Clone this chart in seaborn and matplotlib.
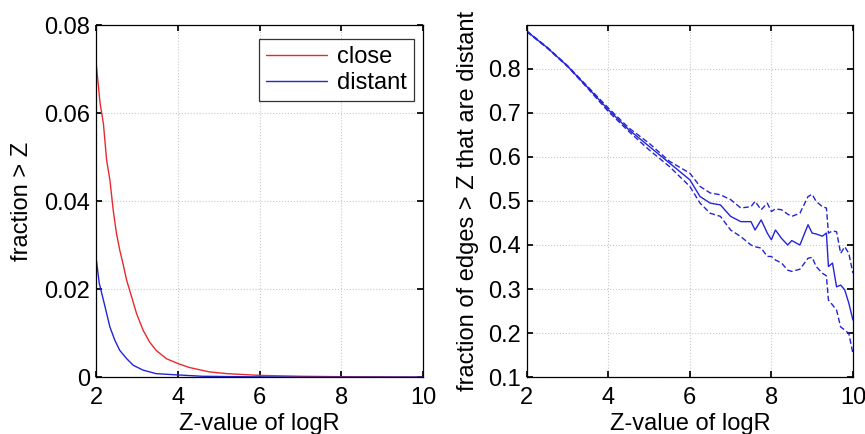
import numpy as np
import pandas as pd
import matplotlib
matplotlib.use("Agg")
import matplotlib.pyplot as plt
import seaborn as sns

# Left panel data
z_close = [2.0, 2.1, 2.18, 2.26, 2.34, 2.42, 2.5, 2.58, 2.66, 2.75, 2.87, 2.99, 3.15, 3.31,
           3.47, 3.72, 4.0, 4.28, 4.77, 5.2, 6.0, 7.0, 8.0, 9.0, 10.0]
close = [0.0717, 0.0622, 0.0577, 0.0493, 0.0448, 0.0380, 0.0327, 0.0289, 0.0258, 0.0220,
         0.0183, 0.0145, 0.0107, 0.0080, 0.0061, 0.0042, 0.0031, 0.0022, 0.0012, 0.0008,
         0.0004, 0.0002, 0.0001, 0.00005, 0.0]
z_distant = [2.0, 2.08, 2.16, 2.26, 2.34, 2.46, 2.58, 2.75, 2.91, 3.15, 3.47, 4.0, 4.6, 5.5,
             7.0, 10.0]
distant = [0.0273, 0.0213, 0.0183, 0.0145, 0.0114, 0.0084, 0.0061, 0.0042, 0.0027, 0.0016,
           0.0008, 0.0005, 0.0002, 0.0001, 0.0, 0.0]

# Right panel data
z_right = [2, 2.5, 3, 3.5, 4, 4.5, 5, 5.5, 6, 6.25, 6.5, 6.75, 7, 7.25, 7.5, 7.6, 7.75, 7.9,
           8, 8.1, 8.25, 8.4, 8.5, 8.7, 8.9, 9.0, 9.1, 9.25, 9.35, 9.4, 9.5, 9.6, 9.7, 9.8, 9.9, 10]
frac_mean = [0.885, 0.848, 0.806, 0.757, 0.707, 0.662, 0.624, 0.586, 0.548, 0.510, 0.495, 0.491,
             0.465, 0.453, 0.453, 0.434, 0.457, 0.427, 0.412, 0.434, 0.415, 0.400, 0.410, 0.400,
             0.446, 0.427, 0.425, 0.420, 0.427, 0.351, 0.359, 0.305, 0.309, 0.298, 0.268, 0.230]
frac_upper = [0.886, 0.849, 0.807, 0.759, 0.711, 0.666, 0.631, 0.590, 0.563, 0.533, 0.518, 0.514,
              0.503, 0.484, 0.487, 0.499, 0.480, 0.495, 0.476, 0.482, 0.480, 0.470, 0.465, 0.472,
              0.510, 0.515, 0.499, 0.487, 0.484, 0.427, 0.432, 0.430, 0.381, 0.396, 0.381, 0.336]
frac_lower = [0.884, 0.847, 0.805, 0.755, 0.703, 0.658, 0.616, 0.578, 0.533, 0.495, 0.472, 0.465,
              0.434, 0.419, 0.400, 0.396, 0.393, 0.374, 0.374, 0.366, 0.359, 0.343, 0.340, 0.345,
              0.370, 0.372, 0.351, 0.336, 0.330, 0.275, 0.264, 0.252, 0.214, 0.207, 0.199, 0.154]

sns.set_theme(style="whitegrid")
plt.rcParams['font.family'] = ['Liberation Sans', 'DejaVu Sans']
plt.rcParams.update({
    'axes.edgecolor': 'black', 'axes.linewidth': 0.9,
    'text.color': 'black', 'axes.labelcolor': 'black',
    'grid.color': '#c8c8c8', 'grid.linestyle': ':', 'grid.linewidth': 0.8,
    'xtick.direction': 'in', 'ytick.direction': 'in',
    'xtick.major.size': 4, 'ytick.major.size': 4,
    'xtick.color': 'black', 'ytick.color': 'black',
    'xtick.bottom': True, 'ytick.left': True, 'xtick.top': True, 'ytick.right': True,
})

FS = 17
RED = '#e82a2e'
BLUE = '#2424d8'

fig = plt.figure(figsize=(8.65, 4.34), dpi=100)
ax1 = fig.add_axes([0.111, 0.131, 0.378, 0.811])
ax2 = fig.add_axes([0.609, 0.131, 0.377, 0.811])

dfl = pd.DataFrame({'z': z_close + z_distant, 'v': close + distant,
                    's': ['close'] * len(close) + ['distant'] * len(distant)})
sns.lineplot(data=dfl, x='z', y='v', hue='s', palette={'close': RED, 'distant': BLUE},
             ax=ax1, linewidth=1.0)
ax1.set_xlim(2, 10)
ax1.set_ylim(0, 0.08)
ax1.set_xticks([2, 4, 6, 8, 10])
ax1.set_yticks([0, 0.02, 0.04, 0.06, 0.08])
ax1.set_yticklabels(['0', '0.02', '0.04', '0.06', '0.08'])
ax1.set_xlabel('Z-value of logR', fontsize=FS, labelpad=3)
ax1.set_ylabel('fraction > Z', fontsize=FS, labelpad=8)
ax1.tick_params(labelsize=FS)
ax1.tick_params(axis='x', pad=7)
ax1.tick_params(axis='y', pad=4)
leg = ax1.legend(loc='upper right', fontsize=FS, frameon=True, fancybox=False,
                 edgecolor='black', handlelength=2.6, borderpad=0.3, labelspacing=0.15,
                 handletextpad=0.4, borderaxespad=0.0, bbox_to_anchor=(0.972, 0.96))
leg.get_frame().set_linewidth(0.9)

dfr = pd.DataFrame({'z': z_right * 3, 'v': frac_mean + frac_upper + frac_lower,
                    's': ['mean'] * len(z_right) + ['upper'] * len(z_right) + ['lower'] * len(z_right)})
sns.lineplot(data=dfr, x='z', y='v', hue='s', style='s',
             palette={'mean': BLUE, 'upper': BLUE, 'lower': BLUE},
             dashes={'mean': '', 'upper': (4, 2), 'lower': (4, 2)},
             ax=ax2, linewidth=1.0, legend=False)
ax2.set_xlim(2, 10)
ax2.set_ylim(0.1, 0.899)
ax2.set_xticks([2, 4, 6, 8, 10])
ax2.set_yticks([0.1, 0.2, 0.3, 0.4, 0.5, 0.6, 0.7, 0.8])
ax2.set_xlabel('Z-value of logR', fontsize=FS, labelpad=3)
ax2.set_ylabel('fraction of edges > Z that are distant', fontsize=FS, labelpad=7)
ax2.tick_params(labelsize=FS)
ax2.tick_params(axis='x', pad=7)
ax2.tick_params(axis='y', pad=4)

for ax in (ax1, ax2):
    for sp in ax.spines.values():
        sp.set_visible(True)
        sp.set_color('black')

fig.savefig('out.png', dpi=100, facecolor='white')
